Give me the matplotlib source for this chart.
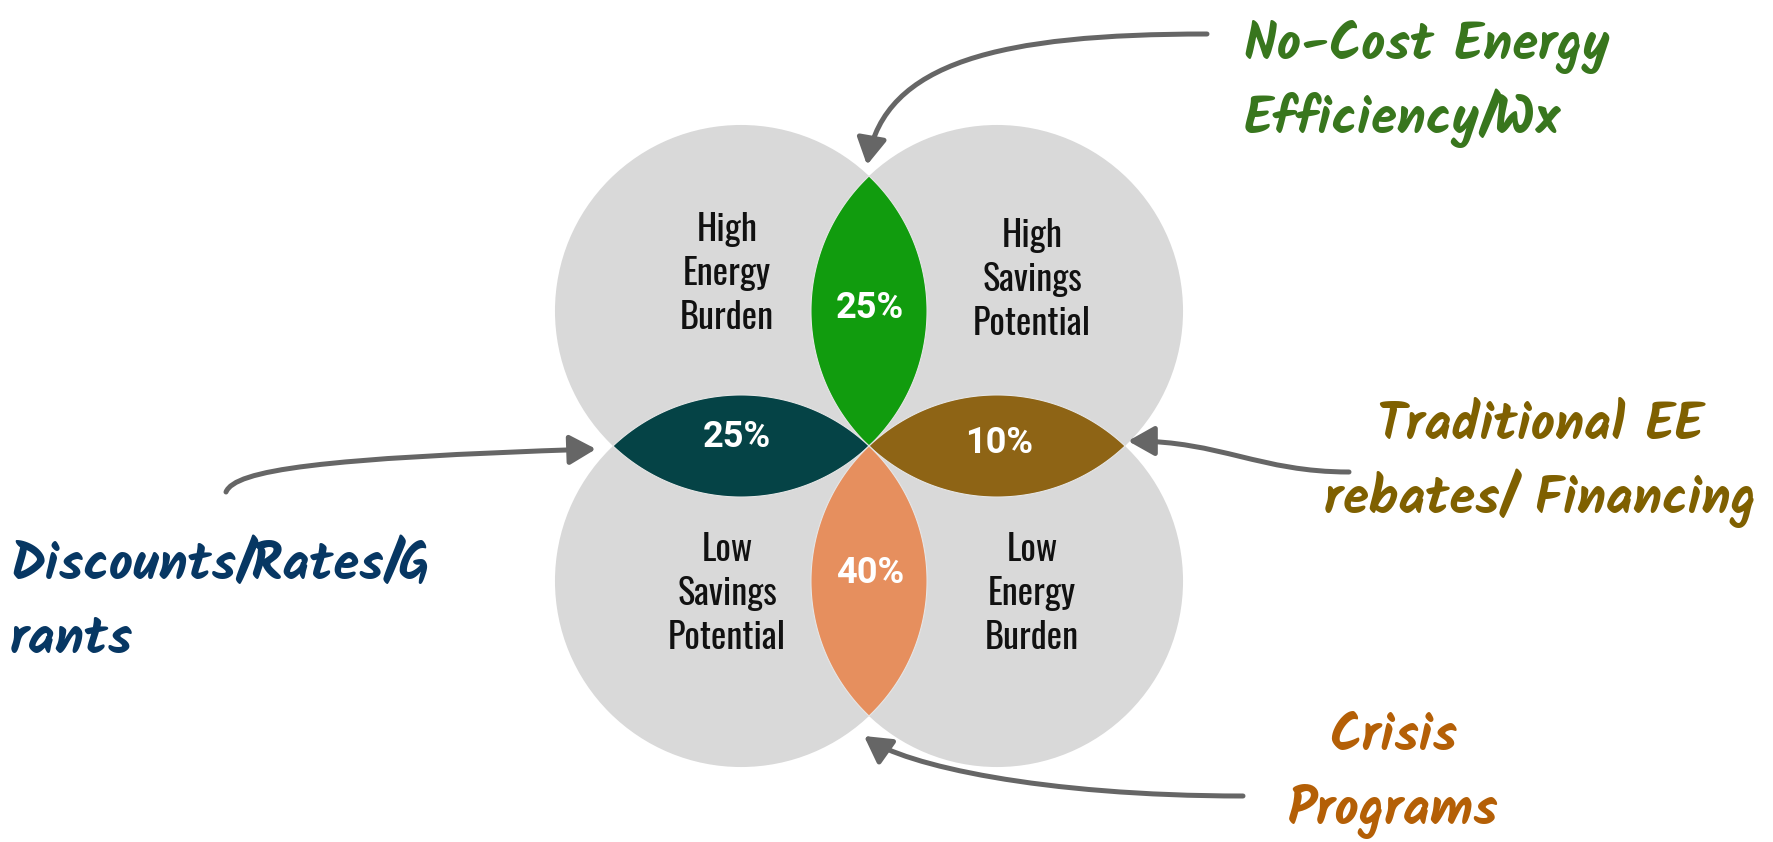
import numpy as np
import matplotlib
matplotlib.use("Agg")
import matplotlib.pyplot as plt
from matplotlib.patches import Circle, Polygon, FancyArrowPatch
from matplotlib.path import Path
from matplotlib import font_manager as fm

# ---------------- data ----------------
quadrant_labels = [
    ["High", "Energy", "Burden"],        # top-left
    ["High", "Savings", "Potential"],    # top-right
    ["Low", "Savings", "Potential"],     # bottom-left
    ["Low", "Energy", "Burden"],         # bottom-right
]
# overlaps: (circle i, circle j)
overlap_pairs = [(0, 1), (0, 2), (1, 3), (2, 3)]   # top, left, right, bottom
overlap_values = [25, 25, 10, 40]
overlap_colors = ["#119C0E", "#054346", "#8E6415", "#E68F5E"]

program_labels = [
    ["No-Cost Energy", "Efficiency/Wx"],
    ["Discounts/Rates/G", "rants"],
    ["Traditional EE", "rebates/ Financing"],
    ["Crisis", "Programs"],
]
program_colors = ["#38761D", "#073763", "#7F6000", "#B45F06"]

# ---------------- fonts ----------------
fonts = fm.fontManager.ttflist
names = {f.name for f in fonts}


def pick(cands):
    for c in cands:
        if c in names:
            return c
    return "DejaVu Sans"


HAND = pick(["Kalam", "Patrick Hand", "Caveat", "Liberation Sans Narrow"])
hand_weights = sorted({f.weight for f in fonts if f.name == HAND},
                      key=lambda w: w if isinstance(w, int) else 400)
HAND_W = "bold" if any((isinstance(w, int) and w >= 600) or w == "bold" for w in hand_weights) else "normal"
COND = pick(["Oswald", "Roboto Condensed", "Fira Sans Condensed", "Liberation Sans Narrow"])
BOLD = pick(["Roboto"])

# ---------------- layout ----------------
W, H = 1773, 842
fig = plt.figure(figsize=(W / 100, H / 100), dpi=100)
ax = fig.add_axes([0, 0, 1, 1])
ax.set_xlim(0, W)
ax.set_ylim(H, 0)
ax.axis("off")
renderer = fig.canvas.get_renderer()


def fit_size(texts, targets, family, base=30, **kw):
    ratios = []
    for s, tw in zip(texts, targets):
        t = fig.text(0, 0, s, fontsize=base, family=family, **kw)
        w = t.get_window_extent(renderer).width
        t.remove()
        ratios.append(tw / w)
    return base * float(np.mean(ratios))


cx, cy, a, b = 869, 446, 128, 135
r = np.hypot(a, b)
centers = [(cx - a, cy - b), (cx + a, cy - b), (cx - a, cy + b), (cx + a, cy + b)]

for c in centers:
    ax.add_patch(Circle(c, r, facecolor="#D9D9D9", edgecolor="none", zorder=1))


def lens(c1, c2, n=120):
    c1 = np.asarray(c1, float)
    c2 = np.asarray(c2, float)
    d = np.hypot(*(c2 - c1))
    th = np.arctan2(*(c2 - c1)[::-1])
    al = np.arccos(d / (2 * r))
    t = np.linspace(-al, al, n)
    p1 = c1 + r * np.column_stack([np.cos(th + t), np.sin(th + t)])
    th2 = th + np.pi
    p2 = c2 + r * np.column_stack([np.cos(th2 + t), np.sin(th2 + t)])
    return np.vstack([p1, p2]), (c1 + c2) / 2


pct_size = fit_size(["25%"], [68], BOLD, fontweight="bold")
pct_offsets = [(1, 7), (-4, 1), (2, 7), (1, 2)]
for (i, j), v, col, off in zip(overlap_pairs, overlap_values, overlap_colors, pct_offsets):
    pts, mid = lens(centers[i], centers[j])
    ax.add_patch(Polygon(pts, closed=True, facecolor=col, edgecolor="#E6E6E6",
                         lw=0.8, zorder=2))
    ax.text(mid[0] + off[0], mid[1] + off[1], f"{v}%", ha="center", va="baseline",
            color="white", fontsize=pct_size, fontweight="bold", family=BOLD, zorder=3)

# quadrant labels (x, first baseline)
q_size = fit_size(["Potential", "Burden", "Savings", "Energy"], [117, 94, 100, 88], COND)
label_pos = [(727, 241), (1032, 247), (727, 561), (1032, 561)]
pitch = 44
for lines, (x, y0) in zip(quadrant_labels, label_pos):
    for k, s in enumerate(lines):
        ax.text(x, y0 + k * pitch, s, ha="center", va="baseline", color="#111111",
                fontsize=q_size, family=COND, zorder=3)

# program annotations
h_size = fit_size(["No-Cost Energy", "Discounts/Rates/G", "rebates/ Financing",
                   "Traditional EE", "Programs"], [360, 438, 431, 326, 206], HAND,
                  fontweight=HAND_W)
prog_pos = [(1244, 60, "left"), (10, 580, "left"), (1540, 440, "center"), (1393, 751, "center")]
ppitch = 74
for lines, col, (x, y0, ha) in zip(program_labels, program_colors, prog_pos):
    for k, s in enumerate(lines):
        ax.text(x, y0 + k * ppitch, s, ha=ha, va="baseline", color=col,
                fontsize=h_size, family=HAND, fontweight=HAND_W, zorder=3)

# arrows (cubic Bezier paths)
arrow_paths = [
    [(1207, 34), (1000, 34), (885, 62), (867, 165)],
    [(226, 492), (235, 470), (320, 458), (596, 449)],
    [(1349, 472), (1260, 472), (1220, 441), (1128, 441)],
    [(1243, 796), (1040, 796), (905, 765), (864, 736)],
]
codes = [Path.MOVETO, Path.CURVE4, Path.CURVE4, Path.CURVE4]
for verts in arrow_paths:
    arr = FancyArrowPatch(path=Path(verts, codes),
                          arrowstyle="-|>,head_length=0.8,head_width=0.45",
                          mutation_scale=20, lw=3.6, color="#666666", zorder=4)
    ax.add_patch(arr)

fig.savefig("out.png", dpi=100, facecolor="white")
